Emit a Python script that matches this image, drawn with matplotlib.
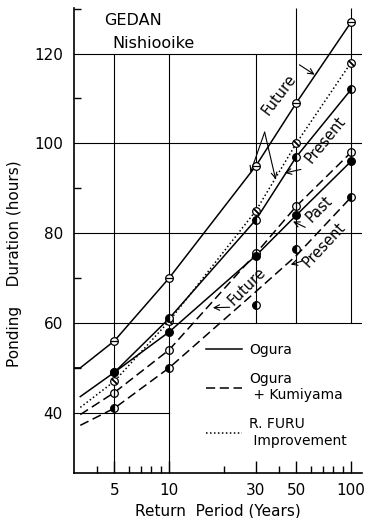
import numpy as np
import matplotlib
matplotlib.use("Agg")
import matplotlib.pyplot as plt
from matplotlib.ticker import FixedLocator, NullFormatter

# return periods where values were computed
rp = [5, 10, 30, 50, 100]

# curves
fut_x = [3, 3.25, 5, 10, 30, 50, 100]
fut_line = [50, 50, 56, 70, 95, 109, 127]
cur_x = [3.25, 5, 10, 30, 50, 100]
present_line = [43.6, 49, 61, 83, 97, 112]
furu_line = [41.2, 47, 60.4, 85, 100, 118]
kumi_fut_line = [39.6, 44.5, 54, 75.5, 86, 98]
kumi_pre_line = [37.2, 41, 50, 67, 75, 88]
past_line = [49, 58, 75, 84, 96]

# plotted points
fut_pts = [56, 70, 95, 109, 127]
present_pts = [49, 61, 83, 97, 112]
past_pts = [49, 58, 75, 84, 96]
furu_pts = [47, 60.4, 85, 100, 118]
kumi_fut_pts = [44.5, 54, 75.5, 86, 98]
kumi_pre_pts = [41, 50, 64, 76.5, 88]

yticks = [40, 60, 80, 100, 120]
xticks = [5, 10, 30, 50, 100]

fig = plt.figure(figsize=(3.68, 5.18), dpi=100)
ax = fig.add_axes([0.201, 0.087, 0.783, 0.898])
ax.set_xscale("log")
ax.set_xlim(3, 115)
ax.set_ylim(26.6, 130.2)

# hand drawn grid
gl = dict(color="k", lw=0.8, zorder=1)
for yv in [60, 80, 100, 120]:
    ax.plot([3, 115], [yv, yv], **gl)
ax.plot([3, 10], [40, 40], **gl)
ax.vlines([5, 10], 26.6, 120, **gl)
ax.vlines([30], 60, 120, **gl)
ax.vlines([50, 100], 60, 130.2, **gl)

lw = 1.1
ax.plot(fut_x, fut_line, "k-", lw=lw, label="Ogura")
ax.plot(cur_x, present_line, "k-", lw=lw)
ax.plot(rp, past_line, "k-", lw=lw)
ax.plot(cur_x, kumi_fut_line, "k", ls=(0, (6, 3)), lw=lw, label="Ogura\n + Kumiyama")
ax.plot(cur_x, kumi_pre_line, "k", ls=(0, (6, 3)), lw=lw)
ax.plot(cur_x, furu_line, "k", ls=(0, (1, 1.6)), lw=lw, label="R. FURU\n Improvement")

ms = 5.5
mk = dict(ls="none", ms=ms, mec="k", mew=0.9, zorder=5)
ax.plot(rp, fut_pts, marker="o", mfc="white", **mk)
ax.plot(rp, fut_pts, marker="_", **mk)
ax.plot(rp, furu_pts, marker="o", mfc="white", **mk)
ax.plot(rp, furu_pts, marker=(2, 2, 45), **mk)
ax.plot(rp, kumi_fut_pts, marker="o", mfc="white", **mk)
ax.plot(rp, kumi_fut_pts, marker="|", **mk)
ax.plot(rp, kumi_pre_pts, marker="o", mfc="k", mfcalt="white", fillstyle="left", **mk)
ax.plot(rp, present_pts, marker="o", mfc="k", mfcalt="white", fillstyle="left", **mk)
ax.plot(rp, past_pts, marker="o", mfc="k", **mk)

# spines and ticks
for s in ["top", "right"]:
    ax.spines[s].set_visible(False)
for s in ["left", "bottom"]:
    ax.spines[s].set_linewidth(1.2)
ax.xaxis.set_major_locator(FixedLocator(xticks))
ax.xaxis.set_minor_locator(FixedLocator([4, 6, 7, 8, 9, 20, 40, 60, 70, 80, 90]))
ax.xaxis.set_minor_formatter(NullFormatter())
ax.set_xticklabels([str(v) for v in xticks])
ax.yaxis.set_major_locator(FixedLocator(yticks))
ax.yaxis.set_minor_locator(FixedLocator([50, 70, 90, 110, 130]))
ax.tick_params(which="both", direction="in", labelsize=11, width=1)
ax.tick_params(axis="x", which="major", length=9, pad=7)
ax.tick_params(axis="x", which="minor", length=5)
ax.tick_params(axis="y", which="major", length=0, pad=8)
ax.tick_params(axis="y", which="minor", length=5)

ax.set_xlabel("Return  Period (Years)", fontsize=11, labelpad=4)
ax.set_ylabel("Ponding    Duration (hours)", fontsize=11, labelpad=9)
ax.yaxis.set_label_coords(-0.18, 0.45)

ax.text(0.104, 0.972, "GEDAN", transform=ax.transAxes, fontsize=11.5, va="center")
ax.text(0.135, 0.923, "Nishiooike", transform=ax.transAxes, fontsize=11.5, va="center")

# curve annotations
ap = dict(arrowstyle="->", lw=0.8, color="k", shrinkA=0, shrinkB=0)
ax.text(40, 110.9, "Future", rotation=53, fontsize=10.5, ha="center", va="center")
ax.annotate("", xy=(63, 115.3), xytext=(52, 117.5), arrowprops=ap)
ax.annotate("", xy=(28, 93.5), xytext=(33.5, 102.5), arrowprops=ap)
ax.annotate("", xy=(38.5, 92), xytext=(33.5, 102.5), arrowprops=ap)
ax.text(72.3, 100.8, "Present", rotation=51, fontsize=10.5, ha="center", va="center")
ax.annotate("", xy=(43.2, 93.4), xytext=(53, 94.2), arrowprops=ap)
ax.text(67, 85.3, "Past", rotation=45, fontsize=10.5, ha="center", va="center")
ax.annotate("", xy=(48, 82.6), xytext=(56, 81.3), arrowprops=ap)
ax.text(71.3, 77.5, "Present", rotation=47, fontsize=10.5, ha="center", va="center")
ax.annotate("", xy=(46.6, 73.0), xytext=(54, 73.8), arrowprops=ap)
ax.text(26.7, 68.1, "Future", rotation=45, fontsize=10.5, ha="center", va="center")
ax.annotate("", xy=(17.4, 63.4), xytext=(21.5, 63.5), arrowprops=ap)

ax.legend(loc="upper left", bbox_to_anchor=(0.44, 0.292), frameon=False,
          fontsize=10, handlelength=2.6, labelspacing=1.1, handletextpad=0.5,
          borderaxespad=0)

fig.savefig("out.png", dpi=100)
